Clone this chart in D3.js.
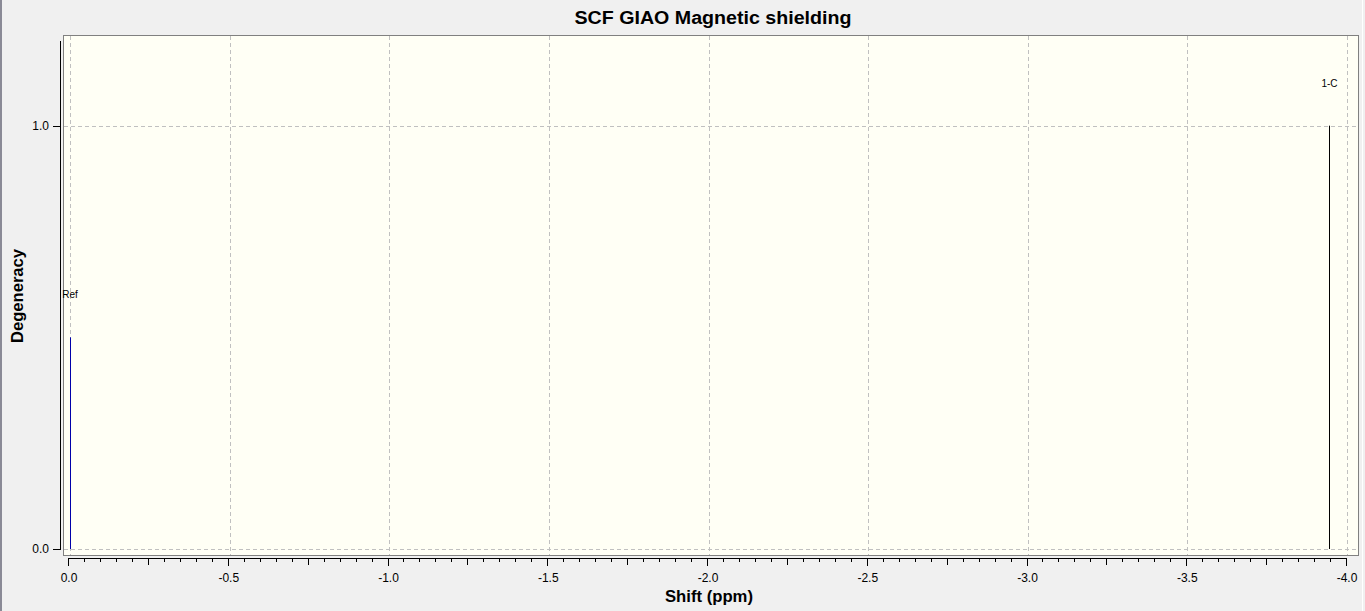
<!DOCTYPE html>
<html>
<head>
<meta charset="utf-8">
<script src="https://cdn.jsdelivr.net/npm/d3@7"></script>
<style>
  html, body { margin: 0; padding: 0; background: #f0f0f0; }
  svg { display: block; font-family: "Liberation Sans", Arial, sans-serif; }
</style>
</head>
<body>
<svg id="chart"></svg>
<script>
// Data
const peakLabels = ["Ref", "1-C"];
const peakShifts = [0.0, -3.945];
const peakDegeneracy = [0.5, 1.0];
const peakColors = ["#0000aa", "#000000"];
const xTicks = [0.0, -0.5, -1.0, -1.5, -2.0, -2.5, -3.0, -3.5, -4.0];
const yTicks = [0.0, 1.0];

const W = 1365, H = 611;
const plot = { left: 63, top: 35, right: 1358, bottom: 555 };
const fmt = d => d3.format(".1f")(d).replace("\u2212", "-");

const svg = d3.select("#chart").attr("width", W).attr("height", H);

// window background and borders
svg.append("rect").attr("width", W).attr("height", H).attr("fill", "#f0f0f0");
svg.append("rect").attr("x", 0).attr("y", 0).attr("width", 2).attr("height", H).attr("fill", "#8a8a96");
svg.append("rect").attr("x", 1362).attr("y", 0).attr("width", 1).attr("height", H).attr("fill", "#ffffff");

// Scales
const x = d3.scaleLinear().domain([0, -4]).range([70, 1347]);
const xAx = d3.scaleLinear().domain([0, -4]).range([68, 1346]);
const y = d3.scaleLinear().domain([0, 1.2]).range([549, 41]);

// plot area
svg.append("rect")
  .attr("x", plot.left + 0.5).attr("y", plot.top + 0.5)
  .attr("width", plot.right - plot.left).attr("height", plot.bottom - plot.top)
  .attr("fill", "#fffff5").attr("stroke", "#808080").attr("stroke-width", 1);

// grid
const grid = svg.append("g").attr("stroke", "#c0c0c0").attr("stroke-dasharray", "4,3");
grid.selectAll(".gx").data(xTicks).enter().append("line")
  .attr("x1", d => Math.round(x(d)) + 0.5).attr("x2", d => Math.round(x(d)) + 0.5)
  .attr("y1", plot.top + 1).attr("y2", plot.bottom);
grid.selectAll(".gy").data(yTicks).enter().append("line")
  .attr("x1", plot.left + 1).attr("x2", plot.right)
  .attr("y1", d => Math.round(y(d)) + 0.5).attr("y2", d => Math.round(y(d)) + 0.5);

// peaks
svg.selectAll(".peak").data(peakShifts).enter().append("line")
  .attr("x1", d => Math.round(x(d)) + 0.5).attr("x2", d => Math.round(x(d)) + 0.5)
  .attr("y1", y(0)).attr("y2", (d, i) => y(peakDegeneracy[i]))
  .attr("stroke", (d, i) => peakColors[i]).attr("stroke-width", 1);

svg.selectAll(".plabel").data(peakLabels).enter().append("text")
  .attr("x", (d, i) => x(peakShifts[i]))
  .attr("y", (d, i) => y(peakDegeneracy[i]) - 39)
  .attr("text-anchor", "middle")
  .attr("font-size", 10)
  .attr("fill", "#000")
  .text(d => d);

// x axis
const xMinor = d3.range(0, 81).map(i => -i * 0.05);
const xg = svg.append("g").attr("stroke", "#000");
xg.append("line").attr("x1", xAx(0)).attr("x2", xAx(-4) + 1)
  .attr("y1", 558.5).attr("y2", 558.5);
xg.selectAll(".tk").data(xMinor).enter().append("line")
  .attr("x1", d => Math.round(xAx(d)) + 0.5).attr("x2", d => Math.round(xAx(d)) + 0.5)
  .attr("y1", 558)
  .attr("y2", (d, i) => 558 + (i % 10 === 0 ? 8 : (i % 5 === 0 ? 7 : 4)));
svg.selectAll(".xl").data(xTicks).enter().append("text")
  .attr("x", d => xAx(d) + 1).attr("y", 582)
  .attr("text-anchor", "middle").attr("font-size", 12).attr("fill", "#000")
  .text(fmt);

// y axis
const yg = svg.append("g").attr("stroke", "#000");
yg.append("line").attr("x1", 60.5).attr("x2", 60.5).attr("y1", y(1.2)).attr("y2", y(0) + 1);
yg.selectAll(".yt").data(yTicks).enter().append("line")
  .attr("x1", 53).attr("x2", 60)
  .attr("y1", d => Math.round(y(d)) + 0.5).attr("y2", d => Math.round(y(d)) + 0.5);
svg.selectAll(".yl").data(yTicks).enter().append("text")
  .attr("x", 49).attr("y", d => y(d) + 4)
  .attr("text-anchor", "end").attr("font-size", 12).attr("fill", "#000")
  .text(fmt);

// titles
svg.append("text").attr("x", 713).attr("y", 24)
  .attr("text-anchor", "middle").attr("font-size", 18).attr("font-weight", "bold")
  .attr("textLength", 277).attr("lengthAdjust", "spacingAndGlyphs")
  .text("SCF GIAO Magnetic shielding");
svg.append("text").attr("x", 709).attr("y", 602)
  .attr("text-anchor", "middle").attr("font-size", 16).attr("font-weight", "bold")
  .attr("textLength", 88).attr("lengthAdjust", "spacingAndGlyphs")
  .text("Shift (ppm)");
svg.append("text").attr("transform", "translate(23,296) rotate(-90)")
  .attr("text-anchor", "middle").attr("font-size", 16).attr("font-weight", "bold")
  .attr("textLength", 94).attr("lengthAdjust", "spacingAndGlyphs")
  .text("Degeneracy");
</script>
</body>
</html>
